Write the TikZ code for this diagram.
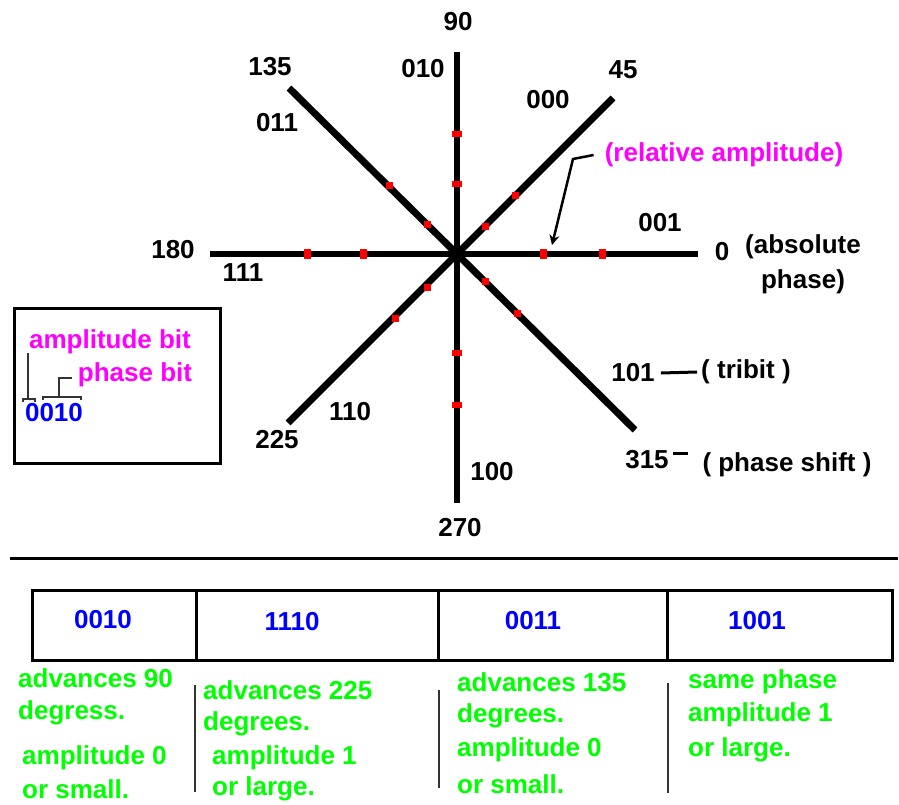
\documentclass[tikz,border=0pt]{standalone}
\usepackage{fontspec}
\setmainfont{Liberation Sans}
\usepackage{xcolor}
\usetikzlibrary{positioning,arrows.meta}

\definecolor{pinkmag}{RGB}{255,0,255}
\definecolor{brightgreen}{RGB}{0,255,0}
\definecolor{pureblue}{RGB}{0,0,255}
\definecolor{purered}{RGB}{255,0,0}

\begin{document}
\begin{tikzpicture}[
    x=1pt, y=-1pt,
    lbl/.style={font=\fontsize{26}{32}\selectfont\bfseries, inner sep=1pt},
    note/.style={lbl, brightgreen, anchor=west, inner sep=0pt},
    axis/.style={line width=5.5pt},
    diag/.style={line width=7pt},
    vdot/.style={fill=purered, inner sep=0pt, minimum width=10pt, minimum height=6pt},
    hdot/.style={fill=purered, inner sep=0pt, minimum width=7pt, minimum height=10pt},
    ddot/.style={fill=purered, inner sep=0pt, minimum size=7pt},
    bracket/.style={line width=2pt, black!80},
    pointer/.style={-{Stealth[length=10pt,width=10pt]}, line width=2.5pt},
    divider/.style={line width=1.5pt, black!80}
]
\useasboundingbox (0,0) rectangle (899,805);

% phase star
\coordinate (O) at (457,254);
\coordinate (e0) at (698,254);
\coordinate (e180) at (210,254);
\coordinate (e90) at (457,52);
\coordinate (e270) at (457,503);
\coordinate (e45) at (613,98);
\coordinate (e135) at (289,88);
\coordinate (e225) at (288,423);
\coordinate (e315) at (635,430);

\draw[axis] (e180) -- (e0);
\draw[axis] (e90) -- (e270);
\draw[diag] (e225) -- (e45);
\draw[diag] (e135) -- (e315);

% amplitude points
\node[vdot] at (457,134) {}; \node[vdot] at (457,184) {};
\node[vdot] at (457,353) {}; \node[vdot] at (457,405) {};
\node[hdot] at (307,254) {}; \node[hdot] at (363,254) {};
\node[hdot] at (543,254) {}; \node[hdot] at (602,254) {};
\node[ddot] at (485,226) {}; \node[ddot] at (515,196) {};
\node[ddot] at (427,224) {}; \node[ddot] at (389,186) {};
\node[ddot] at (427,287) {}; \node[ddot] at (395,318) {};
\node[ddot] at (485,281) {}; \node[ddot] at (517,313) {};

% angle and tribit labels
\node[lbl] (n90) at (458,22) {90};
\node[lbl] (n010) at (423,69) {010};
\node[lbl] (n135) at (270,67) {135};
\node[lbl] (n45) at (623,70) {45};
\node[lbl] (n000) at (548,100) {000};
\node[lbl] (n011) at (277,123) {011};
\node[lbl] (n001) at (660,223) {001};
\node[lbl] (n0) at (722,252) {0};
\node[lbl, align=center] (absphase) at (803,264) {(absolute\\[3pt]phase)};
\node[lbl] (n180) at (173,250) {180};
\node[lbl] (n111) at (243,273) {111};
\node[lbl] (n101) at (633,373) {101};
\node[lbl] (tribit) at (746,372) {( tribit )};
\node[lbl] (n315) at (647,460) {315};
\node[lbl] (phshift) at (787,465) {( phase shift )};
\node[lbl] (n225) at (277,440) {225};
\node[lbl] (n110) at (350,412) {110};
\node[lbl] (n100) at (492,472) {100};
\node[lbl] (n270) at (460,528) {270};

\node[lbl, pinkmag] (relamp) at (724,155) {(relative amplitude)};
\coordinate (bend) at (573,159);
\coordinate (tip) at (552,245);
\draw[pointer] ([xshift=-10pt]relamp.west) -- (bend) -- (tip);

\draw[line width=3pt] ([xshift=5pt]n101.east) -- ([xshift=-3pt]tribit.west);
\draw[line width=3pt] ([xshift=3pt,yshift=7pt]n315.east) -- +(15,0);

% legend box
\node[draw, line width=3pt, minimum width=206pt, minimum height=155pt] (legend) at (117.5,386) {};
\node[lbl, pinkmag] (ampbit) at (110,342) {amplitude bit};
\node[lbl, pinkmag] (phbit) at (135,375) {phase bit};
\node[lbl, pureblue] (bits) at (54,413) {0010};
\draw[bracket] (28,353) -- (28,399);
\draw[bracket] (23,402) -- (23,399) -- (35,399) -- (35,402);
\draw[bracket] (43,400) -- (43,397) -- (81,397) -- (81,400);
\draw[bracket] (59,397) -- (59,378) -- (72,378);

% separator
\draw[line width=3pt] (10,558) -- (898,558);

% table of examples
\draw[line width=3pt] (32,590) rectangle (892,660);
\draw[line width=3pt] (196,590) -- (196,660);
\draw[line width=3pt] (438,590) -- (438,660);
\draw[line width=3pt] (667,590) -- (667,660);
\node[lbl, pureblue] (c1) at (103,620) {0010};
\node[lbl, pureblue] (c2) at (292,622) {1110};
\node[lbl, pureblue] (c3) at (533,621) {0011};
\node[lbl, pureblue] (c4) at (757,621) {1001};

% descriptions
\node[note] at (18,678) {advances 90};
\node[note] at (18,713) {degress.};
\node[note] at (22,758) {amplitude 0};
\node[note] at (22,789) {or small.};

\draw[divider] (195,685) -- (195,792);
\node[note] at (203,690) {advances 225};
\node[note] at (203,724) {degrees.};
\node[note] at (212,758) {amplitude 1};
\node[note] at (212,789) {or large.};

\draw[divider] (439,690) -- (439,788);
\node[note] at (457,682) {advances 135};
\node[note] at (457,716) {degrees.};
\node[note] at (457,750) {amplitude 0};
\node[note] at (457,784) {or small.};

\draw[divider] (668,683) -- (668,793);
\node[note] at (688,682) {same phase};
\node[note] at (688,715) {amplitude 1};
\node[note] at (688,750) {or large.};

\end{tikzpicture}
\end{document}
